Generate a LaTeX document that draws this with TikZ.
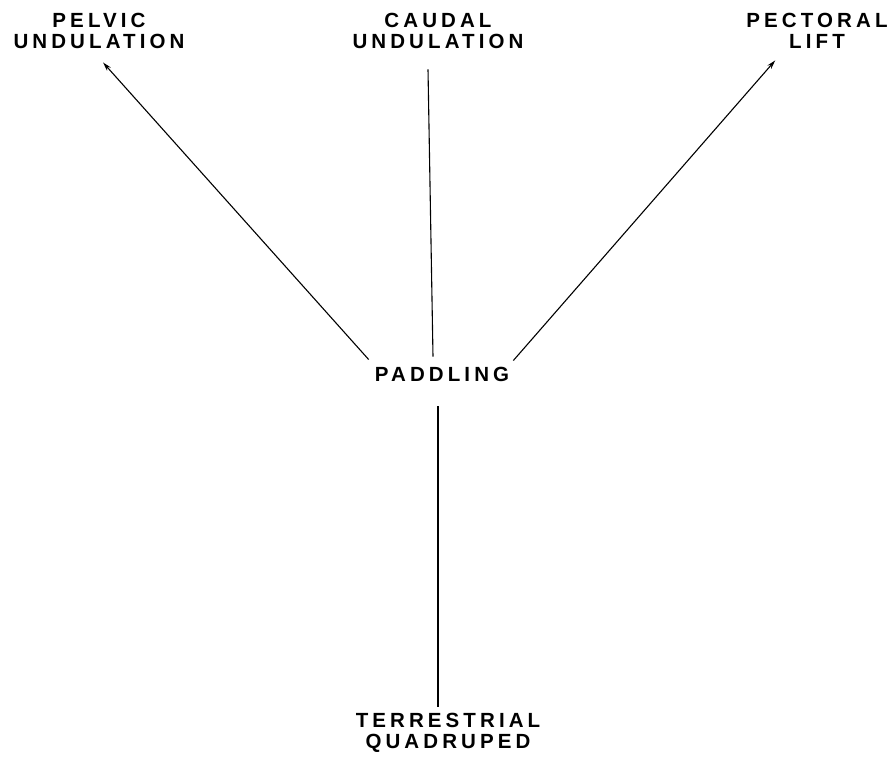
\documentclass[tikz,border=0pt]{standalone}
\usepackage{fontspec}
\newfontfamily\gaitfont[LetterSpace=20]{Liberation Sans}
\usetikzlibrary{arrows.meta}
\begin{document}
\begin{tikzpicture}[x=1pt,y=-1pt,
  mode/.style={font=\gaitfont\bfseries\fontsize{20.5}{21}\selectfont, align=center, inner sep=0pt},
  link/.style={line width=1.1pt},
  tip/.style={-{Stealth[length=9pt,width=5pt]}}]
\useasboundingbox (0,0) rectangle (891,760);

\node[mode] (pelvic)      at (99,30.5)  {PELVIC\\UNDULATION};
\node[mode] (caudal)      at (438,30.5) {CAUDAL\\UNDULATION};
\node[mode] (pectoral)    at (817,30.5) {PECTORAL\\LIFT};
\node[mode] (paddling)    at (442,374)  {PADDLING};
\node[mode] (terrestrial) at (448,732.5) {TERRESTRIAL\\QUADRUPED};

\draw [link,tip] ([shift={(-6,-7)}]paddling.north west) -- ([shift={(4,14)}]pelvic.south);
\draw [link]     ([shift={(-9,-10)}]paddling.north)     -- ([shift={(-10,21)}]caudal.south);
\draw [link,tip] ([shift={(4,-6)}]paddling.north east)  -- ([shift={(29,12)}]pectoral.south west);
\draw [link]     ([shift={(-4,25)}]paddling.south)      -- ([shift={(-10,-6)}]terrestrial.north);
\end{tikzpicture}
\end{document}
